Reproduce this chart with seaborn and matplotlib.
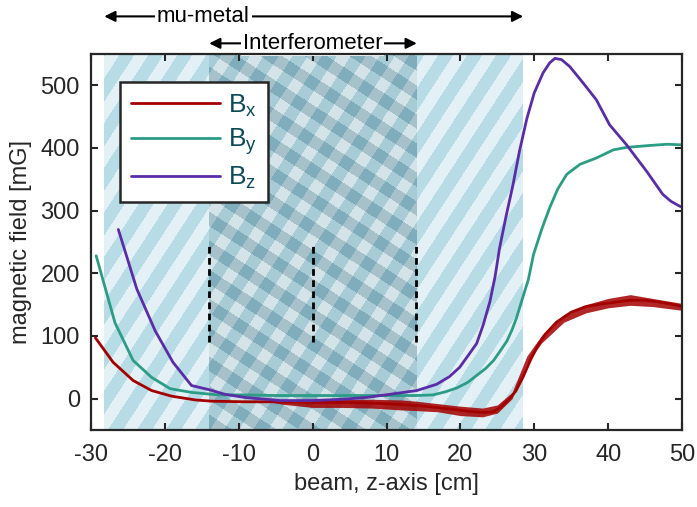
import numpy as np
import pandas as pd
import matplotlib
matplotlib.use("Agg")
import matplotlib.pyplot as plt
from matplotlib.lines import Line2D
import seaborn as sns

# ---------------- data ----------------
bx_x = [-29.4, -27.0, -24.3, -21.8, -19.1, -15.9, -13.7, -9.2, -5.0, 0.0, 5.0, 10.0,
        13.0, 16.0, 19.0, 21.0, 23.0, 24.5, 25.5, 26.5, 27.5, 28.5, 29.5, 30.5, 31.5,
        33.0, 35.0, 37.0, 39.0, 41.0, 43.0, 45.0, 47.0, 49.0, 50.0]
bx_y = [97, 58, 29, 13, 4, -2, -4, -5, -5, -6, -6, -8,
        -10, -13, -17, -20, -22, -21, -13, -2, 12, 35, 62, 85, 103,
        122, 138, 147, 151, 154, 157, 157, 154, 150, 147]

# envelope of the measurement noise on B_x
bxn_x = [-6, -4, 0, 4, 8, 12, 14, 17, 20, 23, 25, 27, 29, 31, 34, 37, 40, 43, 46, 50]
bxn_lo = [-5, -9, -14, -14, -15, -18, -19, -21, -27, -29, -23, 0, 56, 89, 122, 137, 145, 149, 147, 141]
bxn_hi = [-5, -3, -1, -1, -1, -2, -4, -8, -12, -15, -10, 10, 68, 101, 134, 150, 160, 166, 160, 152]

by_x = [-29.3, -26.75, -24.3, -21.8, -19.3, -16.4, -12.8, -9.2, -5.0, 0.0, 5.0, 10.0,
        14.0, 16.3, 18.0, 19.5, 21.0, 22.2, 23.4, 24.5, 25.5, 26.3, 27.0, 27.6, 28.3,
        29.2, 29.9, 31.0, 32.1, 33.2, 34.4, 36.2, 38.4, 40.7, 42.5, 45.6, 48.0, 50.0]
by_y = [228, 121, 61, 34, 16, 10, 6, 6, 5, 5, 5, 5,
        5, 6, 11, 17, 26, 37, 48, 61, 78, 92, 110, 129, 156,
        190, 230, 270, 305, 335, 358, 374, 384, 397, 401, 404, 406, 405]

bz_x = [-26.3, -23.8, -21.3, -18.9, -16.4, -13.9, -11.9, -9.2, -4.4, 0.0, 4.0, 7.3,
        10.5, 14.1, 16.8, 18.5, 19.9, 21.0, 22.2, 23.1, 24.0, 24.7, 25.3, 26.2, 27.1, 28.0,
        29.0, 30.0, 31.2, 32.1, 32.8, 33.7, 34.8, 36.6, 38.4, 40.2, 42.5, 45.2, 47.4,
        48.5, 49.7, 50.0]
bz_y = [270, 175, 108, 58, 21, 14, 7, 2, -3, -3, -1, 2,
        7, 13, 23, 35, 50, 68, 88, 118, 155, 195, 240, 292, 340, 395,
        447, 488, 520, 536, 543, 541, 530, 504, 477, 437, 405, 363, 326,
        315, 307, 306]

labels = [r"$\mathregular{B_x}$", r"$\mathregular{B_y}$", r"$\mathregular{B_z}$"]
colors = ["#a40000", "#2b9d86", "#5a2ca8"]

xticks = [-30, -20, -10, 0, 10, 20, 30, 40, 50]
yticks = [0, 100, 200, 300, 400, 500]
mu_range = (-28.2, 28.5)
int_range = (-14.0, 14.1)
dash_x = [-14, 0, 14]
dash_y = (90, 245)

# ---------------- figure ----------------
sns.set_theme(style="ticks")
plt.rcParams["font.family"] = ["Liberation Sans", "DejaVu Sans"]
plt.rcParams["mathtext.fontset"] = "custom"
plt.rcParams["mathtext.rm"] = "Liberation Sans"

W_PX, H_PX = 697, 507
fig = plt.figure(figsize=(W_PX / 100, H_PX / 100), dpi=100)
ax_l, ax_r, ax_t, ax_b = 91, 682, 54, 430
ax = fig.add_axes([ax_l / W_PX, 1 - ax_b / H_PX, (ax_r - ax_l) / W_PX, (ax_b - ax_t) / H_PX])
xlim = (-30, 50)
ylim = (-50, 550)

# ---------------- hatched background (decoration) ----------------
W, H = ax_r - ax_l, ax_b - ax_t
U, V = np.meshgrid(np.arange(W) + 0.5, np.arange(H) + 0.5)
xd = xlim[0] + U / W * (xlim[1] - xlim[0])
a = np.deg2rad(57)
per_h = 29.0
pn = per_h * np.sin(a)
s1 = ((U * np.sin(a) + V * np.cos(a)) / pn) % 1.0 < 0.52
s2 = ((U * np.cos(a) - V * np.sin(a) + 7) / pn) % 1.0 < 0.5

def rgb(h):
    return np.array(matplotlib.colors.to_rgb(h))

img = np.zeros((H, W, 4))
mu = (xd >= mu_range[0]) & (xd <= mu_range[1])
intf = (xd >= int_range[0]) & (xd <= int_range[1])
img[mu & ~s1, :3] = rgb("#e3f1f6")
img[mu & s1, :3] = rgb("#b7dce6")
img[intf & ~s1 & ~s2, :3] = rgb("#d3e3e8")
img[intf & s1 & ~s2, :3] = rgb("#a8ccd6")
img[intf & ~s1 & s2, :3] = rgb("#a6c1ca")
img[intf & s1 & s2, :3] = rgb("#80adbb")
img[mu, 3] = 1.0
ax.imshow(img, extent=(xlim[0], xlim[1], ylim[0], ylim[1]), origin="upper",
          aspect="auto", interpolation="nearest", zorder=0)

# dashed markers
for xv in dash_x:
    ax.plot([xv, xv], dash_y, color="black", lw=2.0, ls=(0, (2.4, 1.6)), zorder=3)

# ---------------- data lines ----------------
ax.fill_between(bxn_x, bxn_lo, bxn_hi, color=colors[0], alpha=0.85, lw=0, zorder=4)
df = pd.concat([
    pd.DataFrame({"z": bx_x, "B": bx_y, "comp": "x"}),
    pd.DataFrame({"z": by_x, "B": by_y, "comp": "y"}),
    pd.DataFrame({"z": bz_x, "B": bz_y, "comp": "z"}),
])
for comp, c in zip(["x", "y", "z"], colors):
    d = df[df.comp == comp]
    sns.lineplot(data=d, x="z", y="B", color=c, lw=2.0, ax=ax, sort=False,
                 estimator=None, legend=False, zorder=5)

ax.set_xlim(xlim)
ax.set_ylim(ylim)
ax.set_xticks(xticks)
ax.set_yticks(yticks)
ax.set_xticklabels([str(t) for t in xticks])
ax.set_yticklabels([str(t) for t in yticks])
ax.tick_params(direction="in", length=5, width=1.5, top=True, right=True,
               labelsize=17, colors="#262626")
ax.tick_params(axis="x", pad=10)
ax.tick_params(axis="y", pad=8)
for sp in ax.spines.values():
    sp.set_linewidth(1.6)
    sp.set_color("#262626")
    sp.set_zorder(6)
ax.set_xlabel("beam, z-axis [cm]", fontsize=17, color="#262626", labelpad=5)
ax.set_ylabel("magnetic field [mG]", fontsize=17, color="#262626", labelpad=6)

# legend
handles = [Line2D([], [], color=c, lw=2.0) for c in colors]
leg = ax.legend(handles, labels, loc="upper left", bbox_to_anchor=(0.049, 0.926),
                borderaxespad=0, fontsize=19, labelcolor="#0b4a5a", frameon=True,
                fancybox=False, edgecolor="#262626", framealpha=1.0,
                handlelength=3.4, handletextpad=0.3, labelspacing=0.3,
                borderpad=0.4)
leg.get_frame().set_linewidth(1.8)
leg.set_zorder(7)

# top annotations
ax.annotate("", xy=(mu_range[0], 610), xytext=(mu_range[1], 610),
            arrowprops=dict(arrowstyle="<|-|>", color="black", lw=1.5, mutation_scale=16,
                            shrinkA=0, shrinkB=0), annotation_clip=False)
ax.text(-14.8, 610, "mu-metal", ha="center", va="center", fontsize=16, color="black",
        bbox=dict(facecolor="white", edgecolor="none", pad=1.5), clip_on=False)
ax.annotate("", xy=(int_range[0], 567), xytext=(int_range[1], 567),
            arrowprops=dict(arrowstyle="<|-|>", color="black", lw=1.5, mutation_scale=16,
                            shrinkA=0, shrinkB=0), annotation_clip=False)
ax.text(0.0, 567, "Interferometer", ha="center", va="center", fontsize=16, color="black",
        bbox=dict(facecolor="white", edgecolor="none", pad=1.5), clip_on=False)

fig.savefig("out.png", dpi=100)
